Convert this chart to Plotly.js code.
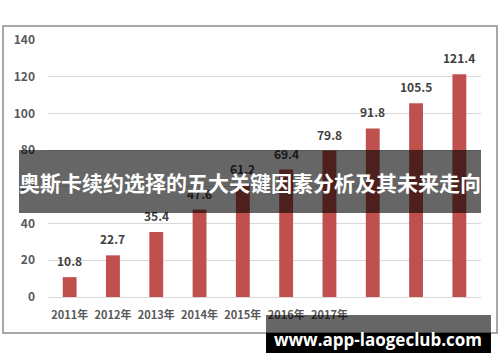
<!DOCTYPE html>
<html>
<head>
<meta charset="utf-8">
<script src="https://cdn.plot.ly/plotly-3.0.1.min.js"></script>
<style>html,body{margin:0;padding:0;background:#fff;}#chart{width:500px;height:362px;}</style>
</head>
<body>
<div id="chart"></div>
<script>
const categories = ["2011年","2012年","2013年","2014年","2015年","2016年","2017年","2018年","2019年","2020年"];
const values = [10.8, 22.7, 35.4, 47.6, 61.2, 69.4, 79.8, 91.8, 105.5, 121.4];
const tickLabels = ["2011年","2012年","2013年","2014年","2015年","2016年","2017年","","",""];
const yTicks = [0, 20, 40, 60, 80, 100, 120, 140];
const titleText = "奥斯卡续约选择的五大关键因素分析及其未来走向";
const watermarkText = "www.app-laogeclub.com";

const font = "'Noto Sans CJK SC', 'Noto Sans', sans-serif";

const trace = {
  type: "bar",
  x: categories,
  y: values,
  marker: {color: "#C0504D"},
  hoverinfo: "skip"
};

const labelAnnotations = categories.map((c, i) => ({
  x: c, y: values[i], xref: "x", yref: "y",
  text: values[i].toFixed(1), showarrow: false,
  xanchor: "center", yanchor: "bottom", yshift: 6,
  font: {family: font, size: 12, color: "#404040", weight: "bold"}
}));

const layout = {
  width: 500, height: 362,
  margin: {l: 48, r: 19, t: 40, b: 65},
  paper_bgcolor: "#fff", plot_bgcolor: "#fff",
  bargap: 0.68,
  showlegend: false,
  font: {family: font},
  xaxis: {
    tickvals: categories, ticktext: tickLabels,
    tickfont: {family: font, size: 11, color: "#595959", weight: "bold"},
    showgrid: false, showline: false, ticks: "", ticklabelstandoff: 10, fixedrange: true
  },
  yaxis: {
    range: [0, 140], tickvals: yTicks,
    tickfont: {family: font, size: 12, color: "#595959", weight: "bold"},
    gridcolor: "#D9D9D9", gridwidth: 1, zeroline: true, zerolinecolor: "#D9D9D9",
    showline: false, ticks: "", ticklabelstandoff: 12, fixedrange: true
  },
  shapes: [
    {type: "rect", xref: "paper", yref: "paper", x0: -0.1039, x1: 1.037, y0: -0.1401, y1: 1.0545,
     line: {color: "#8C8C8C", width: 1.5}, fillcolor: "rgba(0,0,0,0)", layer: "below"},
    {type: "rect", xref: "paper", yref: "paper", x0: 0.5035, x1: 1.023, y0: -0.140, y1: -0.070,
     line: {width: 0}, fillcolor: "rgba(0,0,0,0.6)", layer: "above"},
    {type: "rect", xref: "paper", yref: "paper", x0: 0.5035, x1: 1.023, y0: -0.218, y1: -0.140,
     line: {width: 0}, fillcolor: "#000", layer: "above"}
  ],
  annotations: labelAnnotations.concat([
    {text: titleText, xref: "paper", yref: "paper", x: 0.4665, y: 0.4494, showarrow: false,
     width: 462, height: 63, bgcolor: "rgba(0,0,0,0.6)", borderpad: 0, borderwidth: 0,
     align: "center", valign: "middle",
     font: {family: font, size: 21, color: "#fff", weight: "bold"}, xanchor: "center", yanchor: "middle"},
    {text: watermarkText, xref: "paper", yref: "paper", x: 0.762, y: -0.167, showarrow: false,
     font: {family: "'Open Sans', 'DejaVu Sans', sans-serif", size: 17, color: "#fff", weight: "bold"}, xanchor: "center", yanchor: "middle"}
  ])
};

Plotly.newPlot("chart", [trace], layout, {displayModeBar: false, staticPlot: true});
</script>
</body>
</html>
